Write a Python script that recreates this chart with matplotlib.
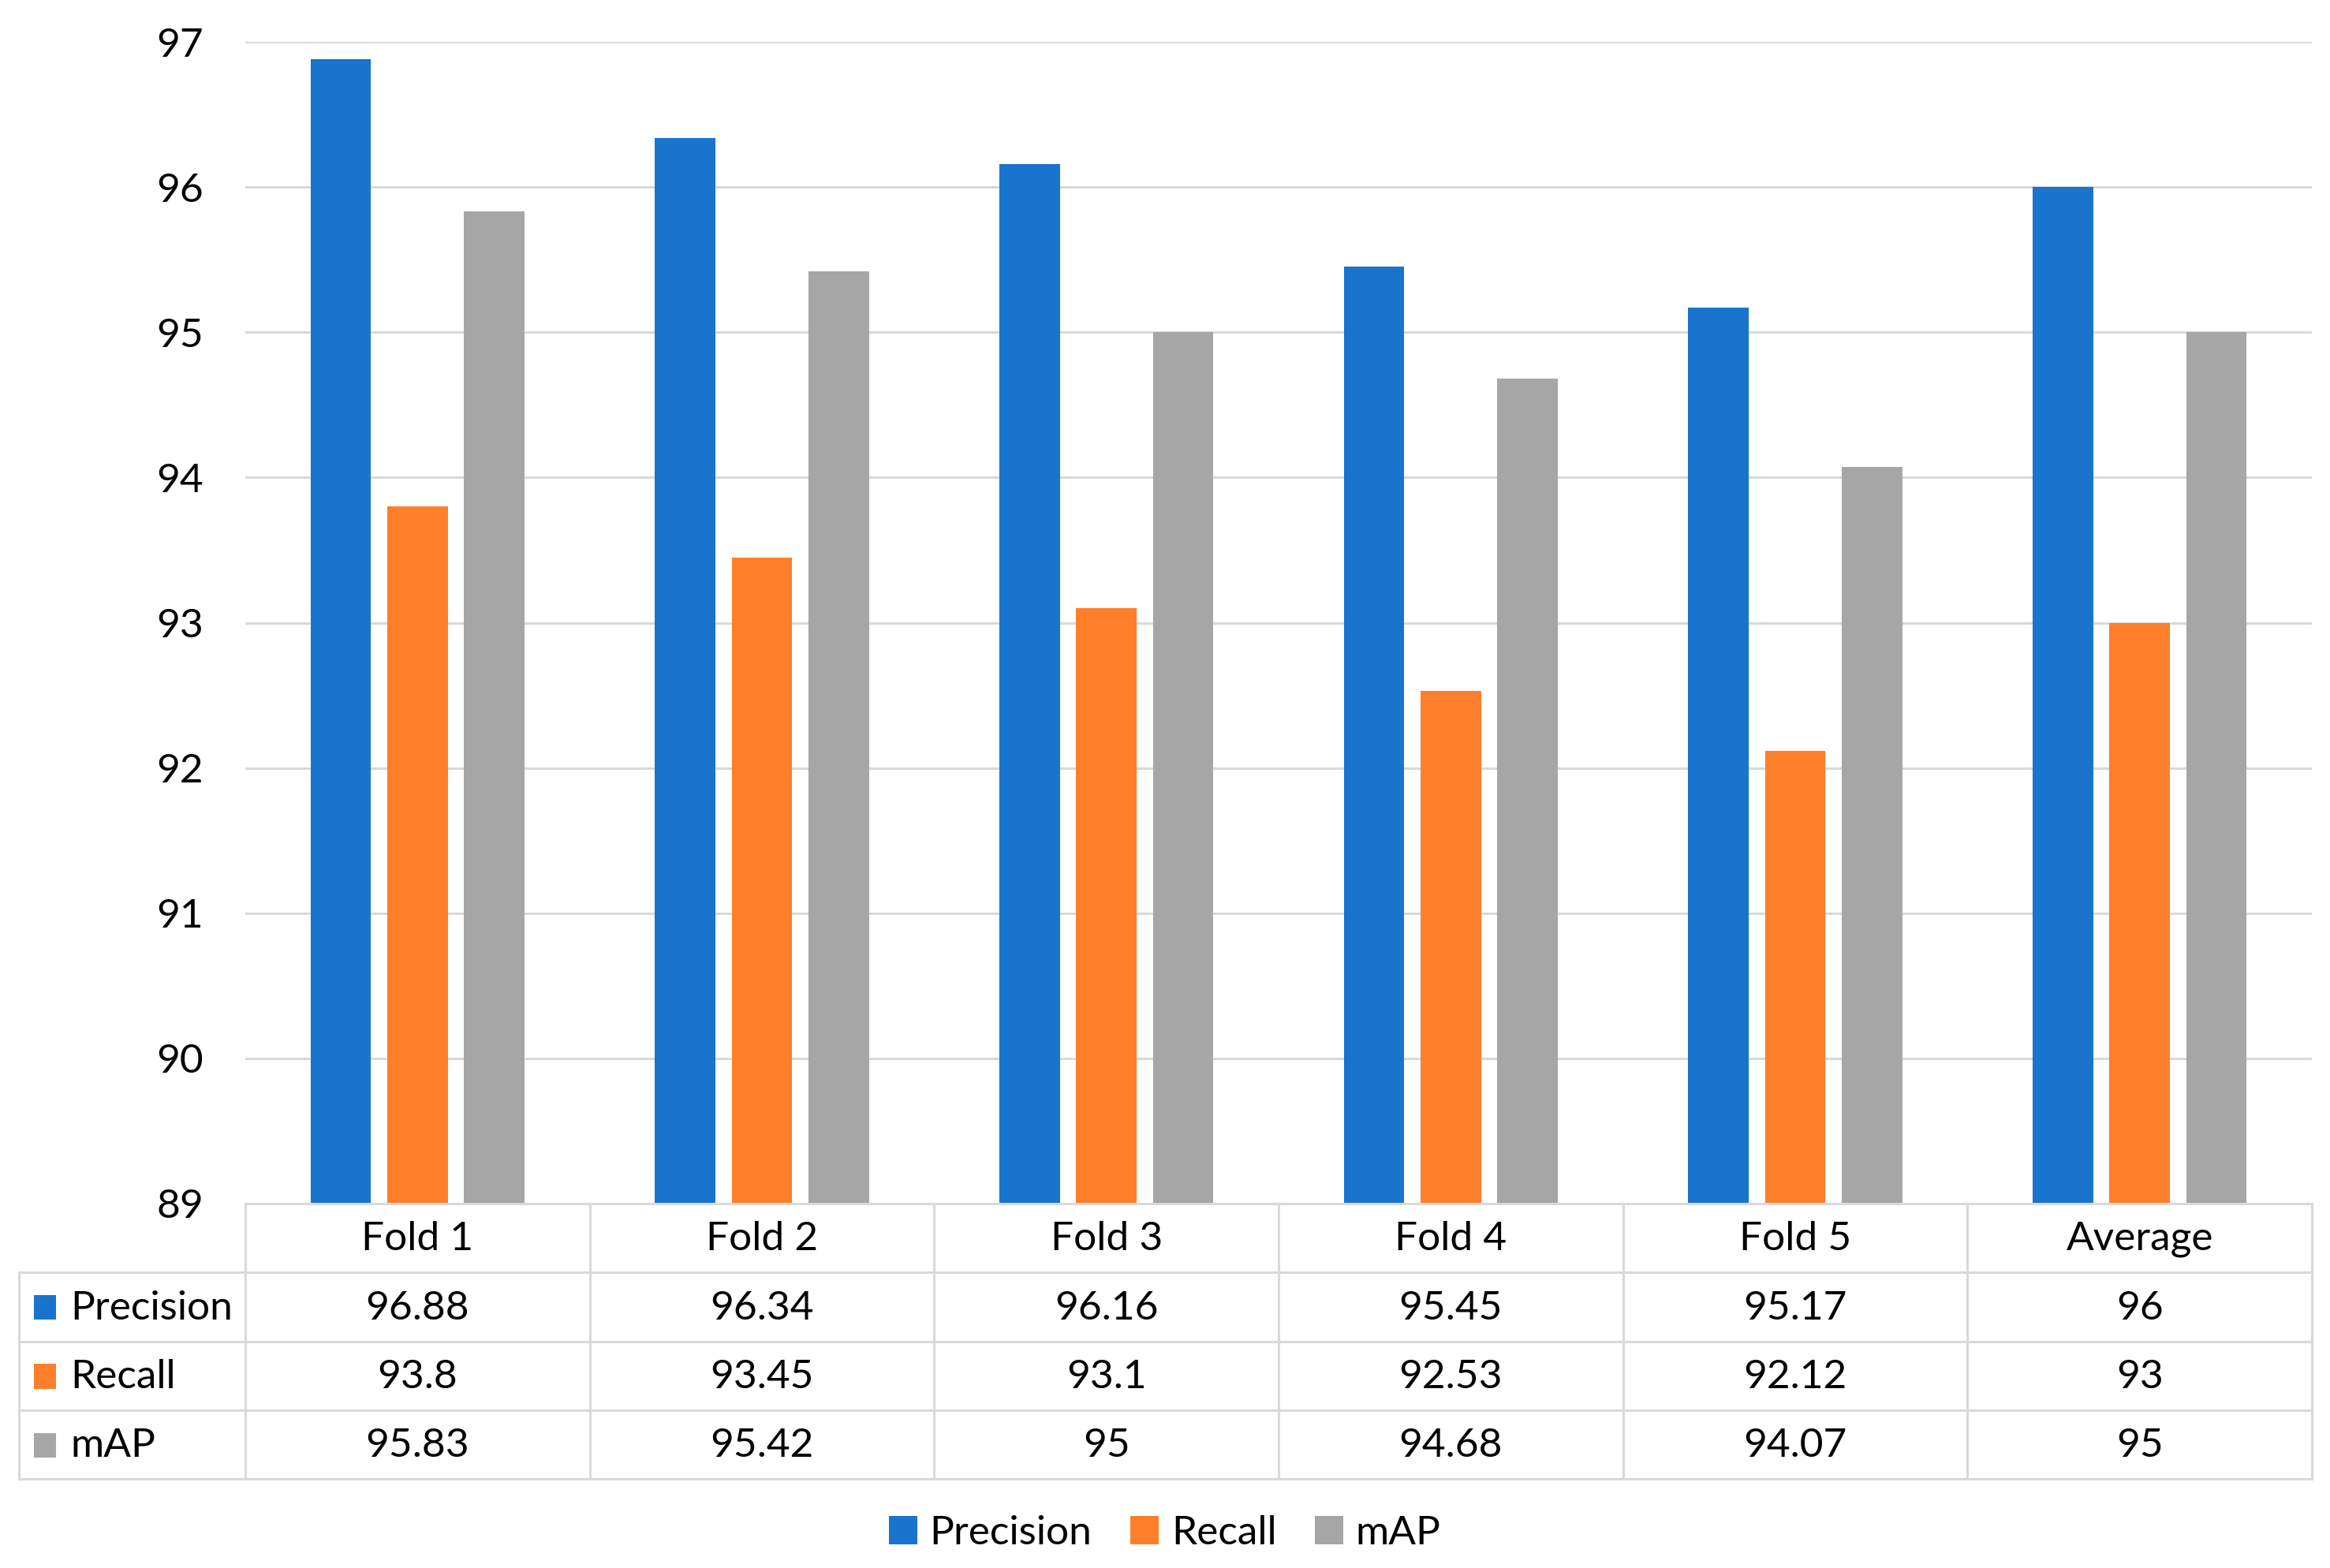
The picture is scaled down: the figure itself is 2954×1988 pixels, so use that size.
#!/usr/bin/env python3

import matplotlib
matplotlib.use('Agg')
import matplotlib.pyplot as plt
from matplotlib.patches import Rectangle

folds = ['Fold 1', 'Fold 2', 'Fold 3', 'Fold 4', 'Fold 5', 'Average']
metrics = ['Precision', 'Recall', 'mAP']
precision = [96.88, 96.34, 96.16, 95.45, 95.17, 96]
recall = [93.8, 93.45, 93.1, 92.53, 92.12, 93]
mean_ap = [95.83, 95.42, 95, 94.68, 94.07, 95]
yticks = [89, 90, 91, 92, 93, 94, 95, 96, 97]

colors = ['#1874CD', '#FE7F2A', '#A6A6A6']
grid_color = '#D9D9D9'
font_size = 18.5

plt.rcParams['font.family'] = ['Lato', 'DejaVu Sans']

W, H = 2954, 1988
fig = plt.figure(figsize=(W / 200, H / 200), dpi=200)

# pixel layout
left, right = 311, 2931
top, base = 53, 1526
table_left, table_bottom = 24, 1875
label_col = (left - table_left) / ((right - left) / len(folds))

ax = fig.add_axes([left / W, 1 - base / H, (right - left) / W, (base - top) / H])
series = [precision, recall, mean_ap]
offsets = [-0.223, 0, 0.223]
handles = []
for k, vals in enumerate(series):
    b = ax.bar([i + offsets[k] for i in range(len(folds))], [v - 89 for v in vals],
               bottom=89, width=0.176, color=colors[k], label=metrics[k], zorder=3)
    handles.append(b)
ax.set_xlim(-0.5, len(folds) - 0.5)
ax.set_ylim(89, 97)
ax.set_yticks(yticks)
ax.set_xticks([])
ax.tick_params(axis='y', length=0, pad=19, labelsize=font_size)
ax.grid(axis='y', color=grid_color, lw=1.1, zorder=0)
for s in ax.spines.values():
    s.set_visible(False)

# data table under the bars
tax = fig.add_axes([table_left / W, 1 - table_bottom / H, (right - table_left) / W,
                    (table_bottom - base) / H])
x0 = -0.5 - label_col
x1 = len(folds) - 0.5
tax.set_xlim(x0, x1)
tax.set_ylim(4, 0)
tax.axis('off')
lk = dict(color=grid_color, lw=1.1, clip_on=False)
for j in range(len(folds) + 1):
    tax.plot([j - 0.5, j - 0.5], [0, 4], **lk)
tax.plot([x0, x0], [1, 4], **lk)
tax.plot([-0.5, x1], [0, 0], **lk)
for r in range(1, 5):
    tax.plot([x0, x1], [r, r], **lk)

for j, name in enumerate(folds):
    tax.text(j, 0.52, name, ha='center', va='center', fontsize=font_size)
for k, vals in enumerate(series):
    y = k + 1.52
    tax.add_patch(Rectangle((x0 + 0.043, y - 0.19), 0.065, 0.36, color=colors[k], lw=0))
    tax.text(x0 + 0.15, y, metrics[k], ha='left', va='center', fontsize=font_size)
    for j, v in enumerate(vals):
        tax.text(j, y, f'{v:g}', ha='center', va='center', fontsize=font_size)

fig.legend(handles=handles, labels=metrics, loc='center', bbox_to_anchor=(0.5, 1 - 1944 / H),
           ncol=3, frameon=False, fontsize=font_size, handlelength=0.7, handleheight=0.7,
           handletextpad=0.3, columnspacing=0.95)

fig.savefig('out.png', dpi=200, facecolor='white')
